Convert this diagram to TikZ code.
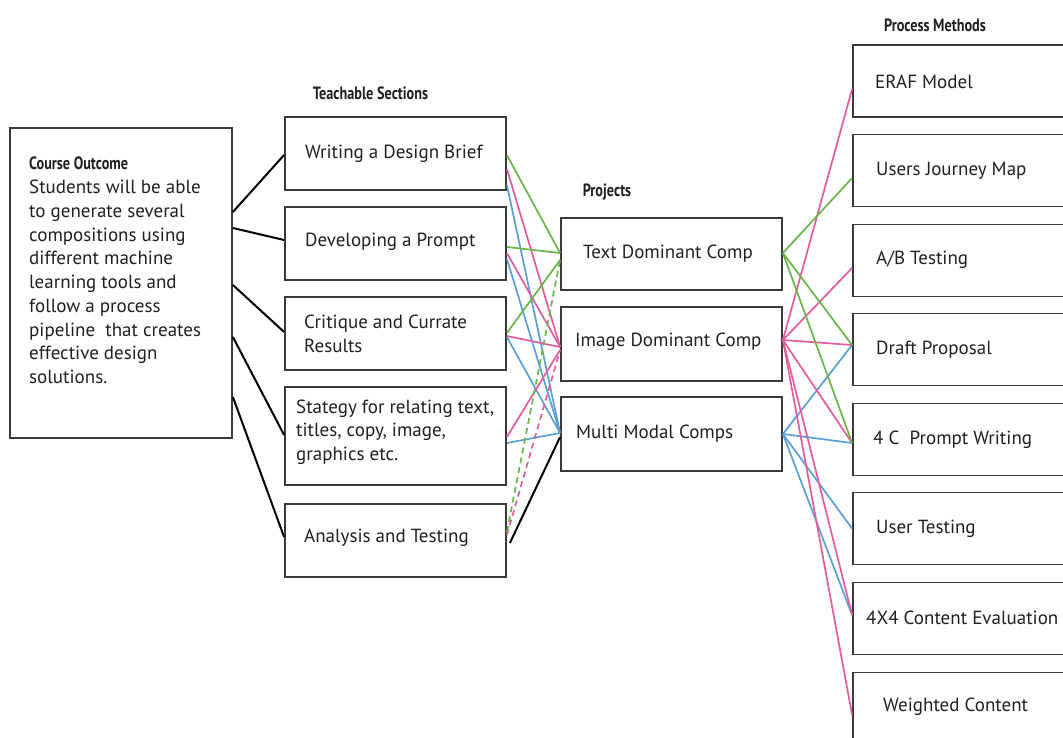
\documentclass[tikz,border=0pt]{standalone}
\usepackage{fontspec}
\setmainfont{PT Sans}
\newfontfamily\headfont[FakeStretch=0.8]{PT Sans}
\newcommand\mybody{\fontsize{19}{23.75}\selectfont}
\newcommand\myhead{\headfont\bfseries\fontsize{17.8}{20}\selectfont}
\definecolor{txt}{HTML}{231F20}
\definecolor{boxc}{HTML}{3A3A3A}
\definecolor{lgreen}{RGB}{104,182,72}
\definecolor{lpink}{RGB}{228,92,158}
\definecolor{lblue}{RGB}{92,158,214}
\begin{document}
\begin{tikzpicture}[x=1pt,y=-1pt,
  box/.style={draw=boxc, line width=1.8pt, rectangle, inner sep=0pt},
  lbl/.style={anchor=west, inner sep=0pt, font=\mybody, text=txt, align=left},
  head/.style={inner sep=0pt, font=\myhead, text=txt},
  link/.style={line width=1.7pt},
  gl/.style={link, draw=lgreen},
  pl/.style={link, draw=lpink},
  bl/.style={link, draw=lblue},
  kl/.style={line width=2pt, draw=black},
  dl/.style={dash pattern=on 6pt off 4pt}]
\useasboundingbox (0,0) rectangle (1063,738);
\clip (0,0) rectangle (1063,738);

% ---------- column headings ----------
\node[head] (hteach) at (370.5,93) {Teachable Sections};
\node[head] (hproj) at (607,192) {Projects};
\node[head] (hproc) at (935,25) {Process Methods};

% ---------- course outcome ----------
\node[box, minimum width=222pt, minimum height=310pt] (outcome) at (121,283) {};
\node[anchor=north west, inner sep=0pt, align=left, font=\mybody, text=txt] (outcometext) at (29,157)
  {{\myhead Course Outcome}\\Students will be able\\to generate several\\compositions using\\different machine\\learning tools and\\follow a process\\pipeline\ \ that creates\\effective design\\solutions.};

% ---------- teachable sections ----------
\node[box, minimum width=221pt, minimum height=73pt] (t1) at (395.5,153.5) {};
\node[box, minimum width=221pt, minimum height=73pt] (t2) at (395.5,243.5) {};
\node[box, minimum width=221pt, minimum height=73pt] (t3) at (395.5,333.5) {};
\node[box, minimum width=221pt, minimum height=98pt] (t4) at (395.5,436) {};
\node[box, minimum width=221pt, minimum height=73pt] (t5) at (395.5,540.5) {};
\node[lbl] (t1l) at (305,154) {Writing a Design Brief};
\node[lbl] (t2l) at (305,242) {Developing a Prompt};
\node[lbl] (t3l) at (304,334) {Critique and Currate\\Results};
\node[lbl] (t4l) at (296,432) {Stategy for relating text,\\titles, copy, image,\\graphics etc.};
\node[lbl] (t5l) at (304,538) {Analysis and Testing};

% ---------- projects ----------
\node[box, minimum width=221pt, minimum height=72pt] (p1) at (671.5,254) {};
\node[box, minimum width=221pt, minimum height=74pt] (p2) at (671.5,344) {};
\node[box, minimum width=221pt, minimum height=74pt] (p3) at (671.5,434) {};
\node[lbl] (p1l) at (583,254) {Text Dominant Comp};
\node[lbl] (p2l) at (575,342) {Image Dominant Comp};
\node[lbl] (p3l) at (576,434) {Multi Modal Comps};

% ---------- process methods ----------
\foreach \i/\y in {1/81,2/170.5,3/260.5,4/349.5,5/439.5,6/528.5,7/618.5,8/708.5}
  \node[box, minimum width=240pt, minimum height=72pt] (m\i) at (973,\y) {};
\node[lbl] (m1l) at (875,82) {ERAF Model};
\node[lbl] (m2l) at (876,171) {Users Journey Map};
\node[lbl] (m3l) at (876,260) {A/B Testing};
\node[lbl] (m4l) at (876,350) {Draft Proposal};
\node[lbl] (m5l) at (873,440) {4 C\ \ Prompt Writing};
\node[lbl] (m6l) at (876,529) {User Testing};
\node[lbl] (m7l) at (866,618) {4X4 Content Evaluation};
\node[lbl] (m8l) at (883,707) {Weighted Content};

% ---------- ports ----------
\coordinate (o1) at ([yshift=71pt]outcome.east);
\coordinate (o2) at ([yshift=55pt]outcome.east);
\coordinate (o3) at ([yshift=-2pt]outcome.east);
\coordinate (o4) at ([yshift=-54pt]outcome.east);
\coordinate (o5) at ([yshift=-114pt]outcome.east);
\coordinate (t1in) at ([yshift=-1.5pt]t1.west);
\coordinate (t2in) at ([yshift=3.5pt]t2.west);
\coordinate (t3in) at ([yshift=1.5pt]t3.west);
\coordinate (t4in) at ([yshift=1pt]t4.west);
\coordinate (t5in) at ([yshift=3.5pt]t5.west);

\coordinate (t1g) at ([yshift=-1.5pt]t1.east);
\coordinate (t1p) at ([yshift=-15.5pt]t1.east);
\coordinate (t1b) at ([yshift=-31.5pt]t1.east);
\coordinate (t2g) at ([yshift=-3.5pt]t2.east);
\coordinate (t2p) at ([yshift=-9.5pt]t2.east);
\coordinate (t2b) at ([yshift=-15.5pt]t2.east);
\coordinate (t3g) at ([yshift=0.5pt]t3.east);
\coordinate (t3p) at ([yshift=-2.5pt]t3.east);
\coordinate (t3b) at ([yshift=-3.5pt]t3.east);
\coordinate (t4p) at ([yshift=-1pt]t4.east);
\coordinate (t4b) at ([yshift=-7pt]t4.east);
\coordinate (t5g) at ([yshift=8.5pt]t5.east);
\coordinate (t5p) at ([yshift=5.5pt]t5.east);
\coordinate (t5k) at ([xshift=3pt,yshift=-2.5pt]t5.east);

\coordinate (p1a) at ([yshift=1pt]p1.west);
\coordinate (p1b) at ([yshift=-6pt]p1.west);
\coordinate (p2a) at ([yshift=-3pt]p2.west);
\coordinate (p2b) at ([yshift=-6pt]p2.west);
\coordinate (p3a) at ([yshift=1pt]p3.west);
\coordinate (p3k) at ([yshift=-3pt]p3.west);
\coordinate (p1o) at ([yshift=1pt]p1.east);
\coordinate (p2o) at ([yshift=4pt]p2.east);
\coordinate (p3o) at (p3.east);

\coordinate (m1in) at ([yshift=-8pt]m1.west);
\coordinate (m2in) at ([yshift=-7.5pt]m2.west);
\coordinate (m3in) at ([yshift=-7.5pt]m3.west);
\coordinate (m4in) at ([yshift=4.5pt]m4.west);
\coordinate (m5in) at ([yshift=-3.5pt]m5.west);
\coordinate (m6in) at (m6.west);
\coordinate (m7in) at ([yshift=3.5pt]m7.west);
\coordinate (m8in) at ([yshift=-6.5pt]m8.west);

% ---------- outcome to sections ----------
\draw[kl] (o1) -- (t1in);
\draw[kl] (o2) -- (t2in);
\draw[kl] (o3) -- (t3in);
\draw[kl] (o4) -- (t4in);
\draw[kl] (o5) -- (t5in);

% ---------- sections to projects ----------
\draw[bl] (t1b) -- (p3a);
\draw[bl] (t2b) -- (p3a);
\draw[bl] (t3b) -- (p3a);
\draw[bl] (t4b) -- (p3a);
\draw[pl] (t1p) -- (p2a);
\draw[pl] (t2p) -- (p2a);
\draw[pl] (t3p) -- (p2a);
\draw[pl] (t4p) -- (p2b);
\draw[pl, dl] (t5p) -- (p2b);
\draw[gl] (t1g) -- (p1a);
\draw[gl] (t2g) -- (p1a);
\draw[gl] (t3g) -- (p1b);
\draw[gl, dl] (t5g) -- (p1b);
\draw[kl] (t5k) -- (p3k);

% ---------- projects to process methods ----------
\draw[bl] (p3o) -- (m4in);
\draw[bl] (p3o) -- (m5in);
\draw[bl] (p3o) -- (m6in);
\draw[bl] (p3o) -- (m7in);
\draw[pl] (p2o) -- (m1in);
\draw[pl] (p2o) -- (m3in);
\draw[pl] (p2o) -- (m4in);
\draw[pl] (p2o) -- (m5in);
\draw[pl] (p2o) -- (m7in);
\draw[pl] (p2o) -- (m8in);
\draw[gl] (p1o) -- (m2in);
\draw[gl] (p1o) -- (m4in);
\draw[gl] (p1o) -- (m5in);
\end{tikzpicture}
\end{document}
